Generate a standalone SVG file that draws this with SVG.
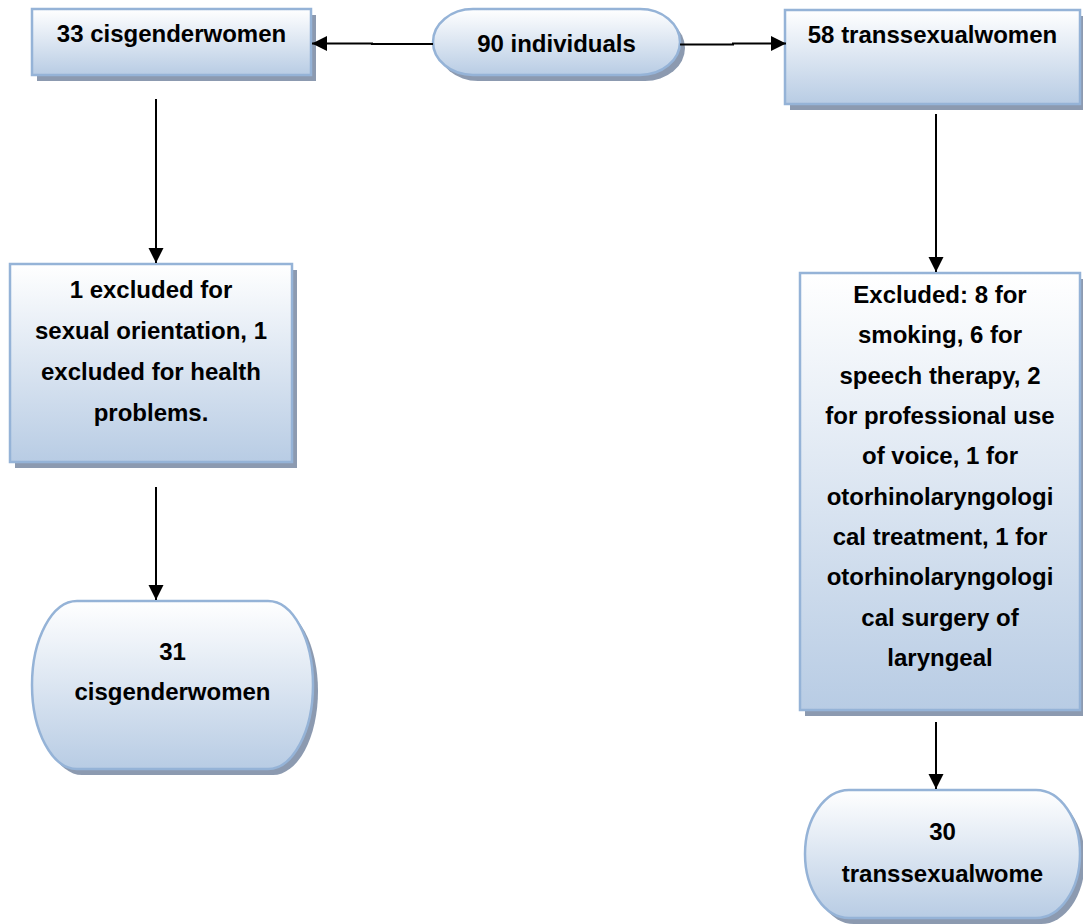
<svg xmlns="http://www.w3.org/2000/svg" width="1083" height="924" viewBox="0 0 1083 924">
<defs>
<linearGradient id="g" x1="0" y1="0" x2="0" y2="1">
<stop offset="0" stop-color="#ffffff"/>
<stop offset="1" stop-color="#b8cce4"/>
</linearGradient>
<marker id="ah" markerUnits="userSpaceOnUse" markerWidth="16" markerHeight="16" refX="15" refY="7.5" orient="auto">
<path d="M0,0 L15,7.5 L0,15 z" fill="#000"/>
</marker>
<style>
.sh{fill:#8c9ab0}
.bx{fill:url(#g);stroke:#95b3d7;stroke-width:2.5}
.t{font-family:"Liberation Sans",Arial,sans-serif;font-weight:bold;font-size:24px;fill:#000;text-anchor:middle}
.c{fill:none;stroke:#000;stroke-width:2;marker-end:url(#ah)}
</style>
</defs>
<rect width="1083" height="924" fill="#fff"/>
<g id="n33cis">
<rect class="sh" x="37" y="15" width="279" height="66"/>
<rect class="bx" x="32" y="9" width="279" height="66"/>
<text class="t" x="171.5" y="42">33 cisgenderwomen</text>
</g>
<g id="n90">
<rect class="sh" x="438" y="15" width="247" height="66" rx="40" ry="33"/>
<rect class="bx" x="433" y="9" width="247" height="66" rx="40" ry="33"/>
<text class="t" x="556.5" y="52">90 individuals</text>
</g>
<g id="n58trans">
<rect class="sh" x="790" y="16" width="295" height="94"/>
<rect class="bx" x="785" y="10" width="295" height="94"/>
<text class="t" x="932.5" y="43">58 transsexualwomen</text>
</g>
<g id="nexclcis">
<rect class="sh" x="15" y="270" width="282" height="198"/>
<rect class="bx" x="10" y="264" width="282" height="198"/>
<text class="t" x="151" y="298">1 excluded for</text>
<text class="t" x="151" y="339">sexual orientation, 1</text>
<text class="t" x="151" y="380">excluded for health</text>
<text class="t" x="151" y="421">problems.</text>
</g>
<g id="n31cis">
<rect class="sh" x="37" y="607" width="281" height="168" rx="45" ry="84"/>
<rect class="bx" x="32" y="601" width="281" height="168" rx="45" ry="84"/>
<text class="t" x="172.5" y="660">31</text>
<text class="t" x="172.5" y="700">cisgenderwomen</text>
</g>
<g id="nexcltrans">
<rect class="sh" x="805" y="279" width="280" height="437"/>
<rect class="bx" x="800" y="273" width="280" height="437"/>
<text class="t" x="940" y="303">Excluded: 8 for</text>
<text class="t" x="940" y="343">smoking, 6 for</text>
<text class="t" x="940" y="384">speech therapy, 2</text>
<text class="t" x="940" y="424">for professional use</text>
<text class="t" x="940" y="464">of voice, 1 for</text>
<text class="t" x="940" y="505">otorhinolaryngologi</text>
<text class="t" x="940" y="545">cal treatment, 1 for</text>
<text class="t" x="940" y="585">otorhinolaryngologi</text>
<text class="t" x="940" y="626">cal surgery of</text>
<text class="t" x="940" y="666">laryngeal</text>
</g>
<g id="n30trans">
<rect class="sh" x="810" y="796" width="275" height="128" rx="44" ry="64"/>
<rect class="bx" x="805" y="790" width="275" height="128" rx="44" ry="64"/>
<text class="t" x="942.5" y="840">30</text>
<text class="t" x="942.5" y="882">transsexualwome</text>
</g>
<g id="connectors">
<path class="c" d="M433,44 H372 V43.5 H312"/>
<path class="c" d="M680,44.5 H733 V43.5 H786"/>
<path class="c" d="M156,99 V263"/>
<path class="c" d="M156,487 V600"/>
<path class="c" d="M936,114 V272"/>
<path class="c" d="M936,722 V789"/>
</g>
</svg>
